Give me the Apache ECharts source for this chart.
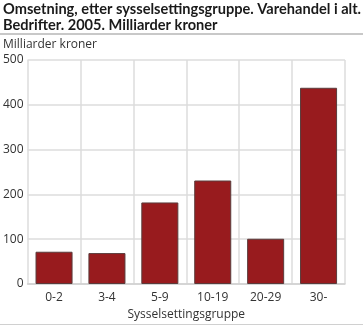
<!DOCTYPE html>
<html><head><meta charset="utf-8">
<script src="https://cdn.jsdelivr.net/npm/echarts@6/dist/echarts.min.js"></script>
<style>html,body{margin:0;padding:0;background:#fff}#c{width:363px;height:326px}</style>
</head><body><div id="c"></div>
<script>
const categories = ['0-2','3-4','5-9','10-19','20-29','30-'];
const values = [72, 69, 182, 231, 101, 438];
const yTicks = [0, 100, 200, 300, 400, 500];

const chart = echarts.init(document.getElementById('c'), null, {renderer: 'canvas'});
const font = '"Open Sans", sans-serif';
chart.setOption({
  animation: false,
  title: {
    text: 'Omsetning, etter sysselsettingsgruppe. Varehandel i alt.\nBedrifter. 2005. Milliarder kroner',
    left: 3, top: 1, padding: 0,
    textStyle: {fontFamily: 'Lato, sans-serif', fontSize: 14.6, fontWeight: 'bold', color: '#1a1a1a', lineHeight: 16}
  },
  graphic: [
    {type: 'line', shape: {x1: 0, y1: 34, x2: 363, y2: 34}, style: {stroke: '#c8c8c8', lineWidth: 2}},
    {type: 'line', shape: {x1: 0, y1: 324.5, x2: 363, y2: 324.5}, style: {stroke: '#d0d0d0', lineWidth: 1}},
    {type: 'text', left: 3, top: 39, style: {text: 'Milliarder kroner', font: '12px ' + font, fill: '#333'}}
  ],
  grid: {left: 27, right: 18, top: 60, bottom: 42},
  xAxis: {
    type: 'category', data: categories,
    name: 'Sysselsettingsgruppe', nameLocation: 'middle', nameGap: 25,
    nameTextStyle: {fontFamily: font, fontSize: 12, color: '#333'},
    axisLine: {show: true, lineStyle: {color: '#cfcfcf', width: 1.5}},
    axisTick: {show: false},
    axisLabel: {fontFamily: font, fontSize: 12, color: '#333', margin: 8},
    splitLine: {show: true, lineStyle: {color: '#dcdcdc', width: 1.5}}
  },
  yAxis: {
    type: 'value', min: yTicks[0], max: yTicks[yTicks.length-1], interval: 100,
    axisLine: {show: false}, axisTick: {show: false},
    axisLabel: {fontFamily: font, fontSize: 12, color: '#333', margin: 4},
    splitLine: {show: true, lineStyle: {color: '#dcdcdc', width: 1.5}}
  },
  series: [{
    type: 'bar', data: values, barCategoryGap: '30%',
    itemStyle: {color: '#981b1e', borderColor: '#5a3c3c', borderWidth: 1}
  }]
});
</script></body></html>
